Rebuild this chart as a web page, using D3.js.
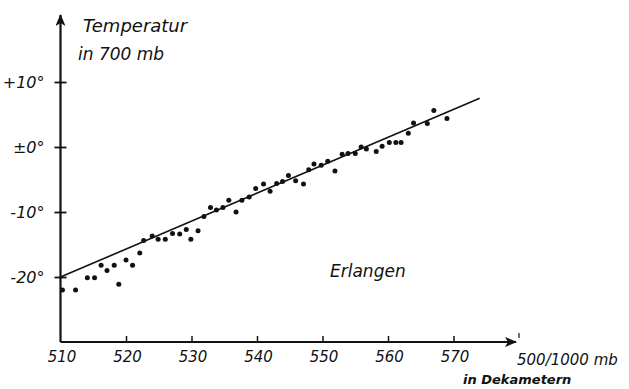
<!DOCTYPE html>
<html lang="en">
<head>
<meta charset="utf-8">
<script src="https://d3js.org/d3.v7.min.js"></script>
<style>
  body { margin: 0; background: #fff; }
  text { font-family: "DejaVu Sans", sans-serif; font-style: italic; fill: #111; }
</style>
</head>
<body>
<svg id="chart" width="629" height="389"></svg>
<script>
// 500/1000 mb thickness (dam) vs 700 mb temperature, Erlangen
var thickness = [510.3, 512.3, 514.1, 515.2, 516.2, 517.1, 518.2, 518.9, 520.0, 521.0,
  522.1, 522.7, 524.0, 524.9, 526.0, 527.1, 528.2, 529.2, 529.9, 531.0,
  531.9, 532.9, 533.8, 534.8, 535.7, 536.8, 537.7, 538.8, 539.8, 541.0,
  542.0, 543.0, 543.9, 544.8, 545.9, 547.1, 547.9, 548.7, 549.8, 550.8,
  551.9, 553.0, 553.9, 555.0, 555.9, 556.7, 558.2, 559.1, 560.2, 561.2,
  562.0, 563.1, 563.9, 566.0, 567.0, 569.0];
var temperature = [-22.0, -22.0, -20.1, -20.1, -18.2, -19.0, -18.2, -21.1, -17.4, -18.2,
  -16.3, -14.4, -13.7, -14.2, -14.2, -13.3, -13.4, -12.7, -14.2, -12.9,
  -10.7, -9.3, -9.7, -9.3, -8.2, -10.0, -8.2, -7.7, -6.4, -5.7,
  -6.8, -5.6, -5.3, -4.4, -5.2, -5.7, -3.5, -2.6, -2.8, -2.2,
  -3.7, -1.1, -1.0, -1.0, 0.0, -0.3, -0.7, 0.1, 0.7, 0.7,
  0.7, 2.1, 3.7, 3.6, 5.6, 4.4];
// regression line end points
var fitX = [510, 574];
var fitY = [-20, 7.5];

var xTicks = [510, 520, 530, 540, 550, 560, 570];
var yTicks = [10, 0, -10, -20];
var yLabels = ["+10°", "±0°", "-10°", "-20°"];

var svg = d3.select("#chart");

var x = d3.scaleLinear().domain([510, 580]).range([60.5, 519]);
var y = d3.scaleLinear().domain([-30, 10]).range([342, 82]);

// axis lines with arrows
svg.append("defs").append("marker")
  .attr("id", "arrow")
  .attr("viewBox", "0 0 12 10")
  .attr("refX", 11).attr("refY", 5)
  .attr("markerWidth", 12).attr("markerHeight", 10)
  .attr("markerUnits", "userSpaceOnUse")
  .attr("orient", "auto")
  .append("path").attr("d", "M0,0 L12,5 L0,10 L3,5 Z").attr("fill", "#111");

svg.append("line")
  .attr("x1", x(510)).attr("y1", y(-30))
  .attr("x2", x(510)).attr("y2", 15)
  .attr("stroke", "#111").attr("stroke-width", 2.2)
  .attr("marker-end", "url(#arrow)");

svg.append("line")
  .attr("x1", x(510)).attr("y1", y(-30))
  .attr("x2", 516).attr("y2", y(-30))
  .attr("stroke", "#111").attr("stroke-width", 2)
  .attr("marker-end", "url(#arrow)");

// x axis ticks pointing up
var xAxis = d3.axisBottom(x)
  .tickValues(xTicks)
  .tickSizeInner(-6).tickSizeOuter(0)
  .tickPadding(9)
  .tickFormat(d3.format("d"));
var gx = svg.append("g").attr("transform", "translate(0," + y(-30) + ")").call(xAxis);
gx.select(".domain").remove();
gx.selectAll("line").attr("stroke", "#111").attr("stroke-width", 1.5)
  .filter(function (d) { return d === 510; }).remove();
gx.selectAll("text").style("font-size", "15px").attr("fill", "#111").attr("dx", 1);

// small tick at the end of the x axis
svg.append("line")
  .attr("x1", x(580)).attr("x2", x(580))
  .attr("y1", y(-30) - 9).attr("y2", y(-30) - 4)
  .attr("stroke", "#111").attr("stroke-width", 1.2);

// y axis ticks crossing the axis
var yAxis = d3.axisLeft(y)
  .tickValues(yTicks)
  .tickSizeInner(6).tickSizeOuter(0)
  .tickPadding(10)
  .tickFormat(function (d, i) { return yLabels[i]; });
var gy = svg.append("g").attr("transform", "translate(" + x(510) + ",0)").call(yAxis);
gy.select(".domain").remove();
gy.selectAll("line").attr("x1", 6).attr("stroke", "#111").attr("stroke-width", 1.8);
gy.selectAll("text").style("font-size", "16px").attr("fill", "#111");

// regression line
svg.append("line")
  .attr("x1", x(fitX[0])).attr("y1", y(fitY[0]))
  .attr("x2", x(fitX[1])).attr("y2", y(fitY[1]))
  .attr("stroke", "#111").attr("stroke-width", 1.6);

// points
svg.append("g")
  .selectAll("circle")
  .data(thickness)
  .enter()
  .append("circle")
  .attr("cx", function (d) { return x(d); })
  .attr("cy", function (d, i) { return y(temperature[i]); })
  .attr("r", 2.5)
  .attr("fill", "#111");

// labels
svg.append("text").attr("x", 83).attr("y", 32).style("font-size", "18px").text("Temperatur");
svg.append("text").attr("x", 78).attr("y", 60).style("font-size", "17px").text("in 700 mb");
svg.append("text").attr("x", 330).attr("y", 277).style("font-size", "17px").text("Erlangen");
svg.append("text").attr("x", 517).attr("y", 365).style("font-size", "15px").text("500/1000 mb");
svg.append("text").attr("x", 463).attr("y", 384).style("font-size", "13px").style("font-weight", "bold").text("in Dekametern");
</script>
</body>
</html>
